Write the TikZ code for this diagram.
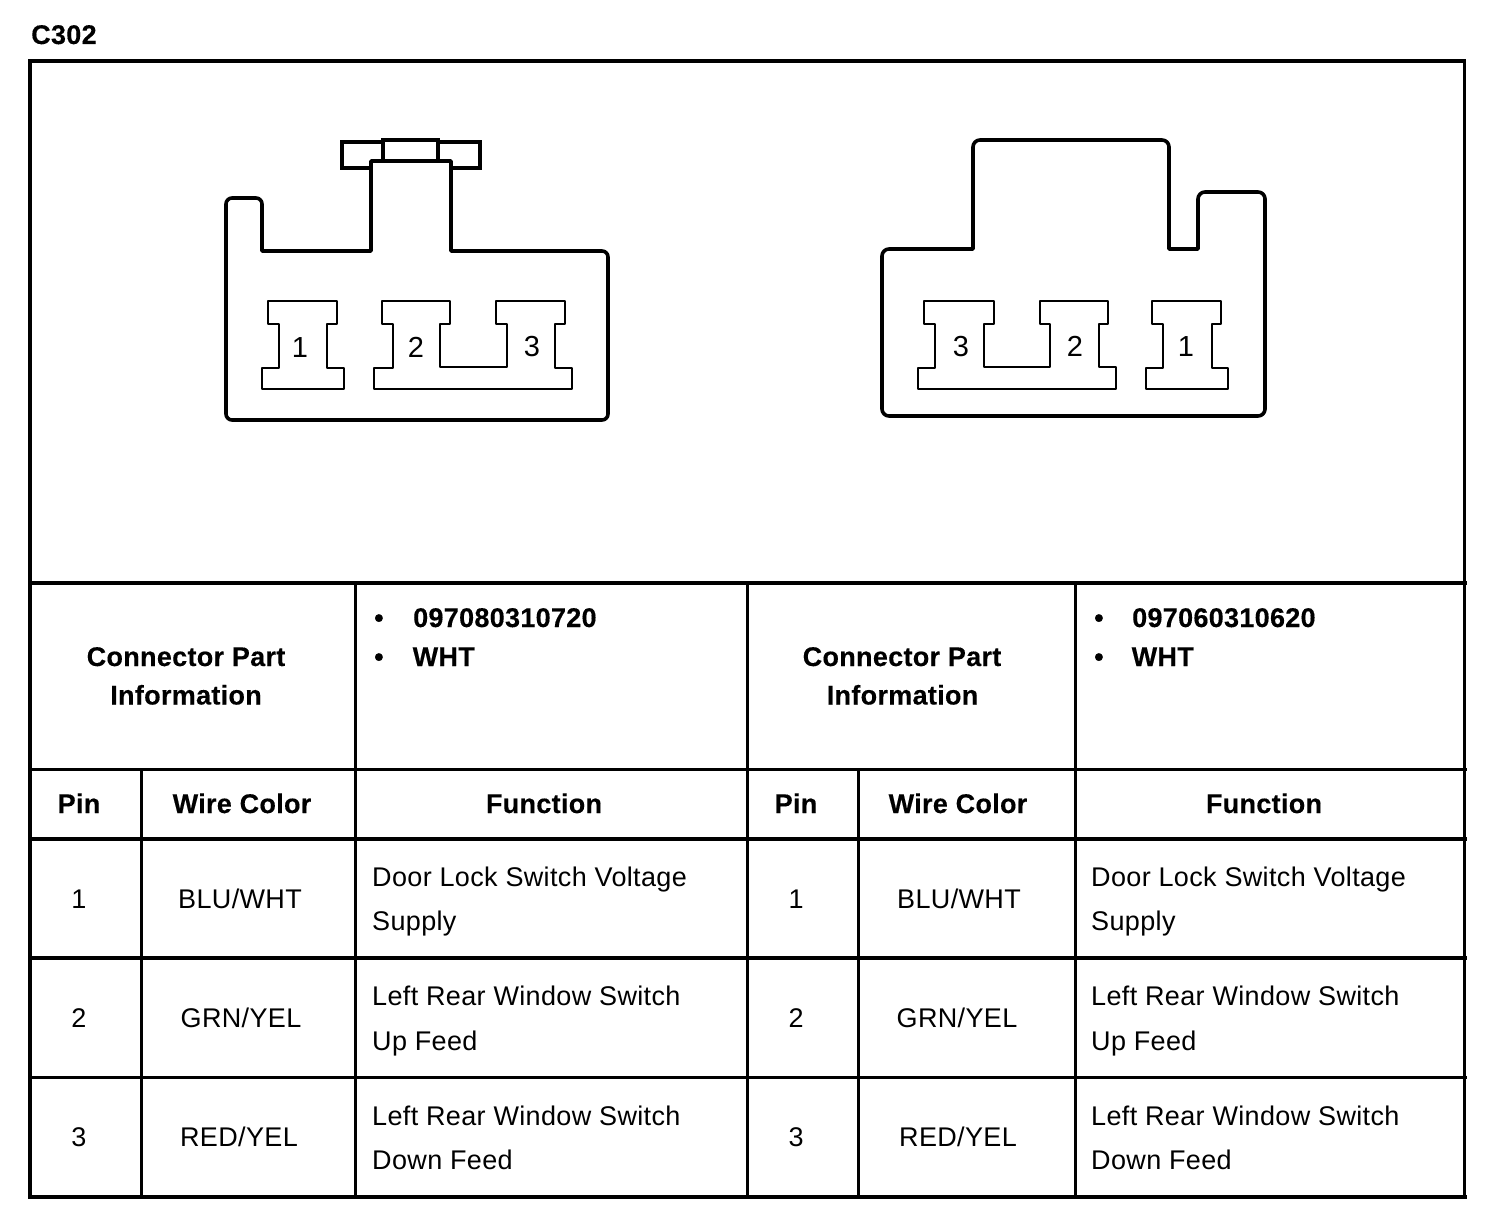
\documentclass[tikz,border=0pt]{standalone}
\usepackage{fontspec}
\setmainfont{Liberation Sans}
\newfontfamily\tblfont[LetterSpace=1.3]{Liberation Sans}
\newfontfamily\hdfont[LetterSpace=1.1,FakeBold=0.3]{Liberation Sans Bold}
\begin{document}
\begin{tikzpicture}[x=1pt,y=-1pt,
  frame/.style={line width=3.6pt},
  grid/.style={line width=3pt},
  shell/.style={line width=3.6pt,line join=round,rounded corners=6pt},
  cavity/.style={line width=2.7pt,line join=round},
  tabpart/.style={line width=3.6pt,line join=miter,fill=white},
  hd/.style={font=\hdfont\fontsize{27}{27}\selectfont,inner sep=0pt,anchor=base,align=center},
  tx/.style={font=\tblfont\fontsize{27}{27}\selectfont,inner sep=0pt,anchor=base},
  txl/.style={tx,anchor=base west},
  hdl/.style={hd,anchor=base west},
  pinnum/.style={font=\fontsize{29}{29}\selectfont,inner sep=0pt,anchor=base}]
\useasboundingbox (0,0) rectangle (1504,1214);
\fill[white] (0,0) rectangle (1504,1214);
\node[hdl] (title) at (31,44) {C302};
% frame and table rules
\draw[frame] (28.2,61) -- (1466,61);
\draw[frame] (30,59.5) -- (30,1199);
\draw[grid] (1464,59.5) -- (1464,1199);
\draw[frame] (28.2,1197) -- (1467,1197);
\draw[frame] (30,583) -- (1467,583);
\draw[grid] (30,769) -- (1467,769);
\draw[frame] (30,839) -- (1467,839);
\draw[frame] (30,958) -- (1467,958);
\draw[grid] (30,1077) -- (1467,1077);
\foreach \x in {355,747,1075} \draw[grid] (\x,583) -- (\x,1199);
\foreach \x in {141,858} \draw[grid] (\x,769) -- (\x,1199);
% left connector
\draw[tabpart] (342,142) rectangle (480,168);
\draw[tabpart] (383,140) rectangle (438,161);
\draw[shell,fill=white] (226,251) -- (226,198) -- (262,198) [sharp corners] -- (262,251) -- (371,251) -- (371,161) -- (451,161) -- (451,251) [rounded corners=6pt] -- (608,251) -- (608,420) -- (226,420) -- cycle;
\draw[cavity] (268,301) -- (337,301) -- (337,324) -- (327,324) -- (327,368) -- (344,368) -- (344,389) -- (262,389) -- (262,368) -- (279,368) -- (279,324) -- (268,324) -- cycle;
\draw[cavity] (382,301) -- (450,301) -- (450,324) -- (440,324) -- (440,367) -- (507,367) -- (507,324) -- (496,324) -- (496,301) -- (565,301) -- (565,324) -- (555,324) -- (555,368) -- (572,368) -- (572,389) -- (374,389) -- (374,368) -- (393,368) -- (393,324) -- (382,324) -- cycle;
\node[pinnum] (l1) at (300,358) {1};
\node[pinnum] (l2) at (416,358) {2};
\node[pinnum] (l3) at (532,356) {3};
% right connector
\draw[shell,fill=white,rounded corners=7pt] (882,416) -- (882,249) [sharp corners] -- (973,249) [rounded corners=7pt] -- (973,140) -- (1169,140) [sharp corners] -- (1169,249) -- (1198,249) [rounded corners=7pt] -- (1198,192) -- (1265,192) -- (1265,416) -- cycle;
\draw[cavity] (924,301) -- (994,301) -- (994,324) -- (984,324) -- (984,367) -- (1050,367) -- (1050,324) -- (1040,324) -- (1040,301) -- (1108,301) -- (1108,324) -- (1099,324) -- (1099,367) -- (1116,367) -- (1116,389) -- (918,389) -- (918,368) -- (935,368) -- (935,324) -- (924,324) -- cycle;
\draw[cavity] (1152,301) -- (1221,301) -- (1221,324) -- (1212,324) -- (1212,368) -- (1228,368) -- (1228,389) -- (1146,389) -- (1146,368) -- (1163,368) -- (1163,324) -- (1152,324) -- cycle;
\node[pinnum] (r3) at (961,356) {3};
\node[pinnum] (r2) at (1075,356) {2};
\node[pinnum] (r1) at (1186,356) {1};
% part info
\node[hd] (cpa) at (186,666) {Connector Part};
\node[hd] (cpb) at (186,704.5) {Information};
\node[hd] (cpc) at (902,666) {Connector Part};
\node[hd] (cpd) at (902.5,704.5) {Information};
\node[hdl] (b1) at (374,627) {•};
\node[hdl] (b2) at (374,666) {•};
\node[hdl] (b3) at (1094,627) {•};
\node[hdl] (b4) at (1094,666) {•};
\node[hdl] (p1) at (413,627) {097080310720};
\node[hdl] (p2) at (412.5,666) {WHT};
\node[hdl] (p3) at (1132,627) {097060310620};
\node[hdl] (p4) at (1131.5,666) {WHT};
% header
\node[hd] (h1) at (79,813) {Pin};
\node[hd] (h2) at (242,813) {Wire Color};
\node[hd] (h3) at (544,813) {Function};
\node[hd] (h4) at (796,813) {Pin};
\node[hd] (h5) at (958,813) {Wire Color};
\node[hd] (h6) at (1264,813) {Function};
% rows, left
\node[tx] (a1) at (79,908) {1};
\node[tx] (a2) at (79,1027) {2};
\node[tx] (a3) at (79,1146) {3};
\node[tx] (c1) at (240,908) {BLU/WHT};
\node[tx] (c2) at (241,1027) {GRN/YEL};
\node[tx] (c3) at (239,1146) {RED/YEL};
\node[txl] (f1a) at (372,886) {Door Lock Switch Voltage};
\node[txl] (f1b) at (372,930) {Supply};
\node[txl] (f2a) at (372,1005) {Left Rear Window Switch};
\node[txl] (f2b) at (372,1050) {Up Feed};
\node[txl] (f3a) at (372,1125) {Left Rear Window Switch};
\node[txl] (f3b) at (372,1169) {Down Feed};
% rows, right
\node[tx] (d1) at (796,908) {1};
\node[tx] (d2) at (796,1027) {2};
\node[tx] (d3) at (796,1146) {3};
\node[tx] (e1) at (959,908) {BLU/WHT};
\node[tx] (e2) at (957,1027) {GRN/YEL};
\node[tx] (e3) at (958,1146) {RED/YEL};
\node[txl] (g1a) at (1091,886) {Door Lock Switch Voltage};
\node[txl] (g1b) at (1091,930) {Supply};
\node[txl] (g2a) at (1091,1005) {Left Rear Window Switch};
\node[txl] (g2b) at (1091,1050) {Up Feed};
\node[txl] (g3a) at (1091,1125) {Left Rear Window Switch};
\node[txl] (g3b) at (1091,1169) {Down Feed};
\end{tikzpicture}
\end{document}
